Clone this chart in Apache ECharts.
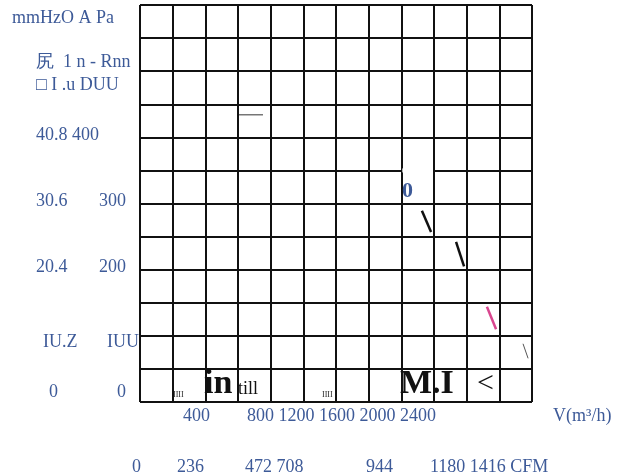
<!DOCTYPE html>
<html>
<head>
<meta charset="utf-8">
<script src="https://cdn.jsdelivr.net/npm/echarts@6/dist/echarts.min.js"></script>
<style>
  html, body { margin: 0; padding: 0; background: #fff; }
  #main { width: 639px; height: 475px; }
</style>
</head>
<body>
<div id="main"></div>
<script>
// axis ranges (m3/h and Pa), 12 x 12 cells
const flowMax = 2400;
const presMax = 600;

// texts as printed (scan is garbled, kept as-is)
const headLabels = ['mmHzO A Pa', '尻  1 n - Rnn', '□ I .u DUU'];
const mmLabels = ['40.8 400', '30.6', '20.4', 'IU.Z', '0'];
const paLabels = ['300', '200', 'IUU', '0'];
const flowLabels = ['400', '800 1200 1600 2000 2400', 'V(m³/h)'];
const cfmLabels = ['0', '236', '472 708', '944', '1180 1416 CFM'];
const plotTexts = ['0', 'IIII', 'in', 'till', 'IIII', 'M.I', '<'];

// curve pieces [m3/h, Pa]
const curveA = [[606, 434], [753, 434]];
const curveB = [[1726, 289], [1782, 257]];
const curveC = [[1935, 242], [1984, 205]];
const curveD = [[2124, 144], [2180, 110]];
const curveE = [[2345, 88], [2376, 66]];
const gridGap = [[1606, 350], [1794, 350]];

const blue = '#3d5a98';
const serif = 'Liberation Serif, Times New Roman, serif';

function txt(text, x, y, size, opts) {
  opts = opts || {};
  return {
    type: 'text',
    x: x,
    y: y,
    z: 10,
    style: {
      text: text,
      font: (opts.weight || 'normal') + ' ' + size + 'px ' + serif,
      fill: opts.color || blue,
      align: opts.align || 'left',
      verticalAlign: 'middle'
    }
  };
}

const graphics = [
  txt(headLabels[0], 12, 18, 18),
  txt(headLabels[1], 36, 62, 18),
  txt(headLabels[2], 36, 85, 18),
  txt(mmLabels[0], 36, 135, 18),
  txt(mmLabels[1], 36, 201, 18),
  txt(mmLabels[2], 36, 267, 18),
  txt(mmLabels[3], 43, 342, 18),
  txt(mmLabels[4], 49, 392, 18),
  txt(paLabels[0], 99, 201, 18),
  txt(paLabels[1], 99, 267, 18),
  txt(paLabels[2], 107, 342, 18),
  txt(paLabels[3], 117, 392, 18),
  txt(flowLabels[0], 183, 416, 18),
  txt(flowLabels[1], 247, 416, 18),
  txt(flowLabels[2], 553, 416, 18),
  txt(cfmLabels[0], 132, 467, 18),
  txt(cfmLabels[1], 177, 467, 18),
  txt(cfmLabels[2], 245, 467, 18),
  txt(cfmLabels[3], 366, 467, 18),
  txt(cfmLabels[4], 430, 467, 18),
  txt(plotTexts[0], 402, 191, 22, { weight: 'bold' }),
  txt(plotTexts[1], 173, 395, 8, { color: '#222' }),
  txt(plotTexts[2], 204, 384, 34, { weight: 'bold', color: '#111' }),
  txt(plotTexts[3], 238, 389, 18, { color: '#111' }),
  txt(plotTexts[4], 322, 395, 8, { color: '#222' }),
  txt(plotTexts[5], 400, 384, 34, { weight: 'bold', color: '#111' }),
  txt(plotTexts[6], 477, 384, 30, { color: '#111' })
];

function seg(data, color, width) {
  return {
    type: 'line',
    data: data,
    symbol: 'none',
    silent: true,
    lineStyle: { color: color, width: width }
  };
}

const chart = echarts.init(document.getElementById('main'));
chart.setOption({
  animation: false,
  grid: { left: 140, top: 5, width: 392, height: 397, containLabel: false },
  xAxis: {
    type: 'value',
    min: 0,
    max: flowMax,
    interval: 200,
    axisLine: { show: false },
    axisTick: { show: false },
    axisLabel: { show: false },
    splitLine: { show: true, lineStyle: { color: '#111', width: 2 } }
  },
  yAxis: {
    type: 'value',
    min: 0,
    max: presMax,
    interval: 50,
    axisLine: { show: false },
    axisTick: { show: false },
    axisLabel: { show: false },
    splitLine: { show: true, lineStyle: { color: '#111', width: 2 } }
  },
  series: [
    seg(gridGap, '#ffffff', 4),
    seg(curveA, '#333333', 1),
    seg(curveB, '#111111', 2.5),
    seg(curveC, '#111111', 2.5),
    seg(curveD, '#d9468f', 2.5),
    seg(curveE, '#555555', 1)
  ],
  graphic: graphics
});
</script>
</body>
</html>
